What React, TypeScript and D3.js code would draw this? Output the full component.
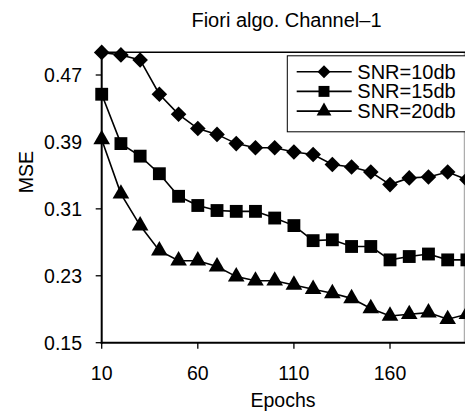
import React from "react";
import * as d3 from "d3";

const epochs = [10, 20, 30, 40, 50, 60, 70, 80, 90, 100, 110, 120, 130, 140, 150, 160, 170, 180, 190, 200];
const snr10 = [0.497, 0.494, 0.488, 0.447, 0.423, 0.406, 0.399, 0.388, 0.383, 0.383, 0.378, 0.375, 0.363, 0.36, 0.354, 0.339, 0.347, 0.348, 0.354, 0.345];
const snr15 = [0.447, 0.388, 0.373, 0.352, 0.325, 0.314, 0.308, 0.307, 0.307, 0.299, 0.29, 0.272, 0.273, 0.265, 0.265, 0.249, 0.253, 0.256, 0.249, 0.249];
const snr20 = [0.393, 0.328, 0.29, 0.26, 0.248, 0.248, 0.241, 0.229, 0.224, 0.224, 0.219, 0.214, 0.209, 0.203, 0.191, 0.182, 0.184, 0.186, 0.178, 0.184];
const seriesNames = ["SNR=10db", "SNR=15db", "SNR=20db"];
const yTicks = [0.15, 0.23, 0.31, 0.39, 0.47];
const xTicks = [10, 60, 110, 160];

const W = 465;
const H = 418;
const FONT = "'Liberation Sans', Arial, sans-serif";

export default function App() {
  const x = d3.scaleLinear().domain([10, 200]).range([101.7, 466.9]);
  const y = d3.scaleLinear().domain([0.15, 0.47]).range([342.7, 75]);
  const allSeries = [snr10, snr15, snr20];
  const symbols = [
    d3.symbol().type(d3.symbolDiamond).size(95),
    d3.symbol().type(d3.symbolSquare).size(150),
    d3.symbol().type(d3.symbolTriangle).size(110),
  ];
  const diamond = (s: number) => `M0,${-s}L${s},0L0,${s}L${-s},0Z`;
  const markerPath = (i: number, big: boolean) => {
    if (i === 0) return diamond(big ? 7.8 : 6.5);
    return symbols[i].size(big ? (i === 1 ? 165 : 120) : (i === 1 ? 120 : 95))() as string;
  };
  const line = d3
    .line<number>()
    .x((_, i) => x(epochs[i]))
    .y((d) => y(d));

  const left = 101.7;
  const top = 52.3;
  const bottom = 342.7;
  const right = 464.3;

  return (
    <svg
      width={W}
      height={H}
      style={{ position: "absolute", left: 0, top: 0, background: "#fff" }}
      fontFamily={FONT}
    >
      <rect x={0} y={0} width={W} height={H} fill="#fff" />
      <text x={286.5} y={26.5} fontSize={20} textAnchor="middle" fill="#000">
        Fiori algo. Channel–1
      </text>
      {/* frame */}
      <line x1={right} x2={right} y1={top} y2={bottom} stroke="#999" strokeWidth={1} />
      <line x1={left} x2={W + 5} y1={top} y2={top} stroke="#000" strokeWidth={1.5} />
      <line x1={left} x2={left} y1={top - 1} y2={bottom + 1} stroke="#000" strokeWidth={2} />
      <line x1={left - 1} x2={W + 5} y1={bottom} y2={bottom} stroke="#000" strokeWidth={2} />
      {yTicks.map((t) => (
        <g key={t}>
          <line x1={left - 6} x2={left} y1={y(t)} y2={y(t)} stroke="#000" strokeWidth={1.3} />
          <text x={82} y={y(t)} dy="0.35em" fontSize={19.5} textAnchor="end" fill="#000">
            {t.toFixed(2)}
          </text>
        </g>
      ))}
      {xTicks.map((t) => (
        <g key={t}>
          <line x1={x(t)} x2={x(t)} y1={bottom} y2={bottom + 6} stroke="#000" strokeWidth={1.3} />
          <text x={x(t)} y={380} fontSize={19.5} textAnchor="middle" fill="#000">
            {t}
          </text>
        </g>
      ))}
      <text x={283} y={407} fontSize={19.5} textAnchor="middle" fill="#000">
        Epochs
      </text>
      <text
        transform={`translate(33,172) rotate(-90)`}
        fontSize={19.5}
        textAnchor="middle"
        fill="#000"
      >
        MSE
      </text>
      {/* series */}
      {allSeries.map((s, si) => (
        <g key={si}>
          <path d={line(s) as string} fill="none" stroke="#000" strokeWidth={1.6} />
          {s.map((v, i) => (
            <path
              key={i}
              transform={`translate(${x(epochs[i])},${y(v)})`}
              d={markerPath(si, true)}
              fill="#000"
            />
          ))}
        </g>
      ))}
      {/* legend */}
      <rect x={287.3} y={55.8} width={200} height={76} fill="#fff" stroke="#000" strokeWidth={1} />
      {seriesNames.map((n, i) => {
        const ly = 71.7 + i * 19.7;
        return (
          <g key={n}>
            <line x1={296.7} x2={351.7} y1={ly} y2={ly} stroke="#000" strokeWidth={1.6} />
            <path transform={`translate(324,${ly})`} d={markerPath(i, false)} fill="#000" />
            <text x={357.3} y={ly} dy="0.35em" fontSize={20} fill="#000">
              {n}
            </text>
          </g>
        );
      })}
    </svg>
  );
}
